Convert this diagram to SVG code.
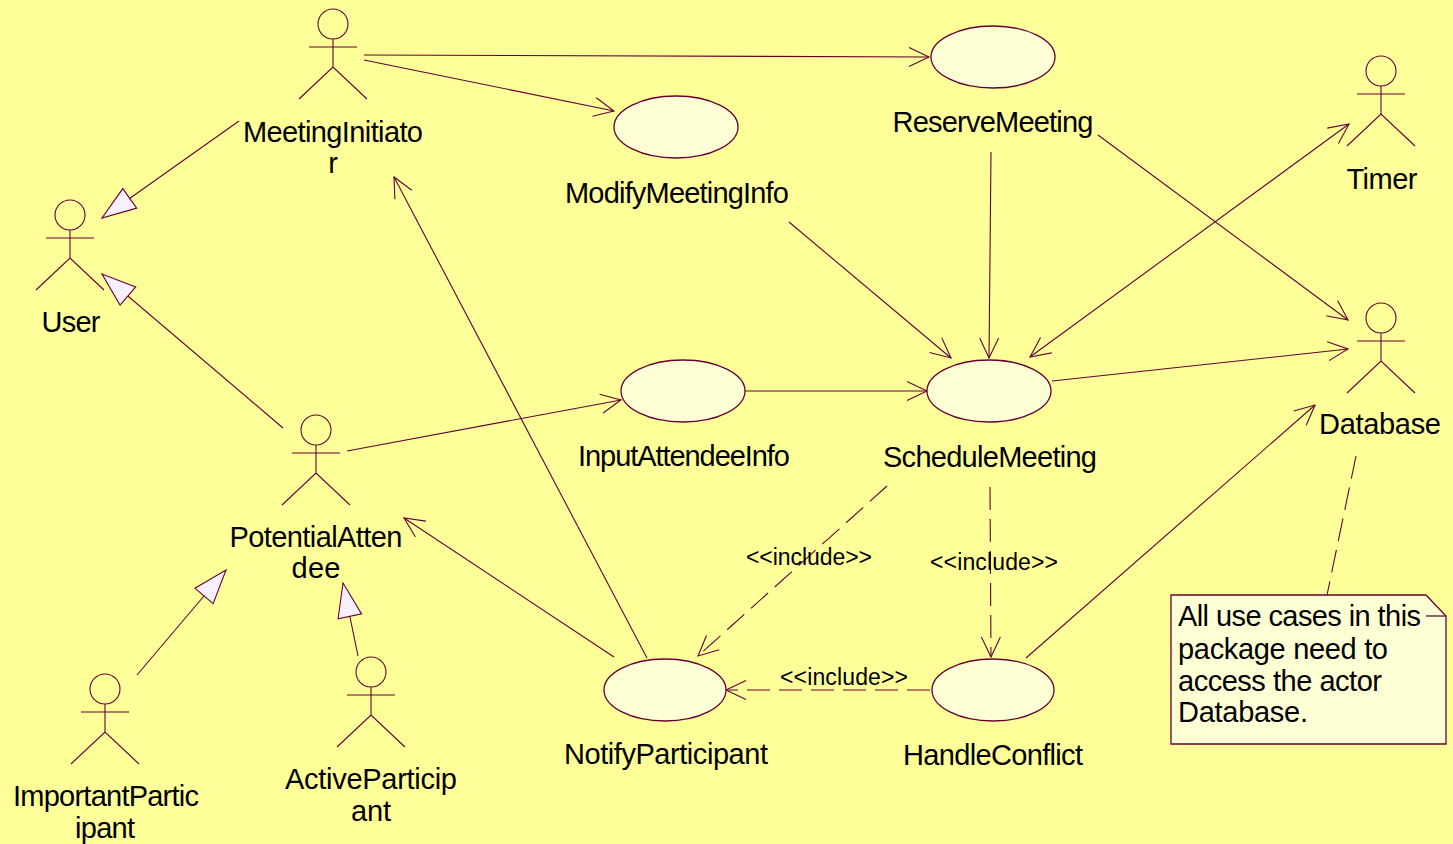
<svg xmlns="http://www.w3.org/2000/svg" width="1453" height="844" viewBox="0 0 1453 844">
<style>
.s{fill:none;stroke:#660033;stroke-width:1.1}
.c{fill:none;stroke:#660033;stroke-width:1.1}
.d{stroke-dasharray:23 9}
.a{marker-end:url(#open)}
.g{marker-end:url(#tri)}
.u{fill:#FFFFD6;stroke:#660033;stroke-width:1.3}
text{font-family:"Liberation Sans",Arial,sans-serif;font-size:29px;fill:#000;text-anchor:middle}
.i{font-size:23px}
.n{text-anchor:start}
</style>
<defs>
<marker id="open" markerUnits="userSpaceOnUse" markerWidth="30" markerHeight="30" refX="25" refY="15" orient="auto-start-reverse" overflow="visible">
<path d="M5,5.500 L25,15 L5,24.500" fill="none" stroke="#660033" stroke-width="1.1"/>
</marker>
<marker id="tri" markerUnits="userSpaceOnUse" markerWidth="40" markerHeight="30" refX="36" refY="15" orient="auto" overflow="visible">
<path d="M2,3 L36,15 L2,27 Z" fill="#F6F0FF" stroke="#660033" stroke-width="1.1"/>
</marker>
<g id="actor" class="s">
<circle cx="0" cy="0" r="15"/>
<path d="M0,15 V43 M-24,23 H24 M-34,75 L0,43 L34,75"/>
</g>
</defs>
<rect width="1453" height="844" fill="#FFFF99"/>
<g id="connectors">
<path class="c a" d="M364,55 L929,57"/>
<path class="c a" d="M364,60 L614,111"/>
<path class="c g" d="M239,121 L102,218"/>
<path class="c g" d="M283,428 L102,274"/>
<path class="c a" d="M1098,135 L1348,320"/>
<path class="c a" d="M991,152 L989,358"/>
<path class="c a" d="M789,222 L951,358"/>
<path class="c a" d="M1030,357 L1349,124" marker-start="url(#open)"/>
<path class="c a" d="M1052,381 L1348,349"/>
<path class="c a" d="M745,391 L927,391"/>
<path class="c a" d="M347,451 L621,400"/>
<path class="c a" d="M614,657 L404,518"/>
<path class="c a" d="M647,658 L394,177"/>
<path class="c a" d="M1026,658 L1315,405"/>
<path class="c d a" d="M887,486 L698,656"/>
<path class="c d a" d="M990,487 L991,657"/>
<path class="c d a" d="M930,690 L726,690"/>
<path class="c d" d="M1356,456 L1327,595"/>
<path class="c g" d="M137,675 L226,570"/>
<path class="c g" d="M358,656 L343,583"/>
<text class="i" x="809" y="565" textLength="126">&lt;&lt;include&gt;&gt;</text>
<text class="i" x="994" y="570" textLength="128">&lt;&lt;include&gt;&gt;</text>
<text class="i" x="844" y="685" textLength="128">&lt;&lt;include&gt;&gt;</text>
</g>
<g id="MeetingInitiator"><use href="#actor" x="333" y="24"/><text x="333" y="142" textLength="180">MeetingInitiato</text><text x="333" y="173">r</text></g>
<g id="User"><use href="#actor" x="70" y="215"/><text x="71" y="332" textLength="59">User</text></g>
<g id="PotentialAttendee"><use href="#actor" x="316" y="430"/><text x="316" y="547" textLength="173">PotentialAtten</text><text x="316" y="578" textLength="49">dee</text></g>
<g id="ImportantParticipant"><use href="#actor" x="105" y="689"/><text x="106" y="806" textLength="186">ImportantPartic</text><text x="105" y="838" textLength="60">ipant</text></g>
<g id="ActiveParticipant"><use href="#actor" x="371" y="672"/><text x="371" y="789" textLength="172">ActiveParticip</text><text x="371" y="821" textLength="40">ant</text></g>
<g id="Timer"><use href="#actor" x="1381" y="71"/><text x="1382" y="189" textLength="71">Timer</text></g>
<g id="Database"><use href="#actor" x="1381" y="318"/><text x="1380" y="434" textLength="122">Database</text></g>
<g id="ReserveMeeting"><ellipse class="u" cx="993" cy="57" rx="62" ry="31"/><text x="993" y="132" textLength="201">ReserveMeeting</text></g>
<g id="ModifyMeetingInfo"><ellipse class="u" cx="676" cy="127" rx="62" ry="31"/><text x="677" y="203" textLength="224">ModifyMeetingInfo</text></g>
<g id="InputAttendeeInfo"><ellipse class="u" cx="683" cy="391" rx="62" ry="31"/><text x="684" y="466" textLength="212">InputAttendeeInfo</text></g>
<g id="ScheduleMeeting"><ellipse class="u" cx="989" cy="391" rx="62" ry="31"/><text x="990" y="467" textLength="214">ScheduleMeeting</text></g>
<g id="NotifyParticipant"><ellipse class="u" cx="665" cy="690" rx="61" ry="31"/><text x="666" y="764" textLength="204">NotifyParticipant</text></g>
<g id="HandleConflict"><ellipse class="u" cx="993" cy="690" rx="61" ry="31"/><text x="993" y="765" textLength="180">HandleConflict</text></g>
<g id="Note">
<path d="M1171,595 H1426 L1446,616 V744 H1171 Z" fill="#FFFFD6" stroke="#660033" stroke-width="1.300"/>
<path d="M1426,616 H1446" fill="none" stroke="#660033" stroke-width="1.300"/>
<text class="n" x="1178" y="626" textLength="243">All use cases in this</text>
<text class="n" x="1178" y="659" textLength="210">package need to</text>
<text class="n" x="1178" y="691" textLength="204">access the actor</text>
<text class="n" x="1178" y="722" textLength="130">Database.</text>
</g>
</svg>
